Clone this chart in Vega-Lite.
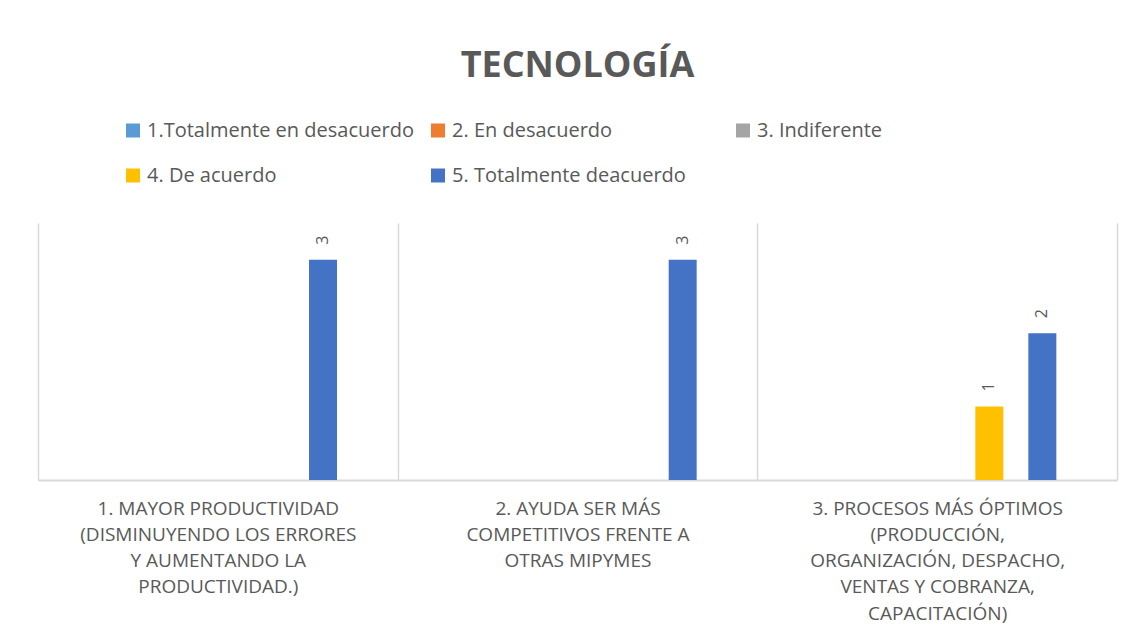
{
  "$schema": "https://vega.github.io/schema/vega-lite/v6.json",
  "width": 1079,
  "height": 257,
  "autosize": {"type": "none"},
  "padding": {"left": 38, "top": 223, "right": 17, "bottom": 153},
  "background": "white",
  "title": {"text": "TECNOLOGÍA", "font": "Open Sans", "fontSize": 36, "fontWeight": "bold", "color": "#595959", "anchor": "middle", "frame": "group", "offset": 36},
  "data": {"values": [
    {"categoria": "1. MAYOR PRODUCTIVIDAD (DISMINUYENDO LOS ERRORES Y AUMENTANDO LA PRODUCTIVIDAD.)", "respuesta": "5. Totalmente deacuerdo", "valor": 3},
    {"categoria": "2.  AYUDA SER MÁS COMPETITIVOS FRENTE A OTRAS MIPYMES", "respuesta": "5. Totalmente deacuerdo", "valor": 3},
    {"categoria": "3. PROCESOS MÁS ÓPTIMOS (PRODUCCIÓN, ORGANIZACIÓN, DESPACHO, VENTAS Y COBRANZA, CAPACITACIÓN)", "respuesta": "4. De acuerdo", "valor": 1},
    {"categoria": "3. PROCESOS MÁS ÓPTIMOS (PRODUCCIÓN, ORGANIZACIÓN, DESPACHO, VENTAS Y COBRANZA, CAPACITACIÓN)", "respuesta": "5. Totalmente deacuerdo", "valor": 2}
  ]},
  "encoding": {
    "x": {
      "field": "categoria", "type": "nominal", "sort": null,
      "scale": {
        "domain": [
          "1. MAYOR PRODUCTIVIDAD (DISMINUYENDO LOS ERRORES Y AUMENTANDO LA PRODUCTIVIDAD.)",
          "2.  AYUDA SER MÁS COMPETITIVOS FRENTE A OTRAS MIPYMES",
          "3. PROCESOS MÁS ÓPTIMOS (PRODUCCIÓN, ORGANIZACIÓN, DESPACHO, VENTAS Y COBRANZA, CAPACITACIÓN)"
        ],
        "paddingInner": 0, "paddingOuter": 0
      },
      "axis": {
        "title": null, "labelAngle": 0,
        "labelExpr": "!isString(datum.value) ? '' : indexof(datum.value, '1.') == 0 ? ['1. MAYOR PRODUCTIVIDAD', '(DISMINUYENDO LOS ERRORES', 'Y AUMENTANDO LA', 'PRODUCTIVIDAD.)'] : indexof(datum.value, '2.') == 0 ? ['2.  AYUDA SER MÁS', 'COMPETITIVOS FRENTE A', 'OTRAS MIPYMES'] : ['3. PROCESOS MÁS ÓPTIMOS', '(PRODUCCIÓN,', 'ORGANIZACIÓN, DESPACHO,', 'VENTAS Y COBRANZA,', 'CAPACITACIÓN)']",
        "labelFont": "Open Sans", "labelFontSize": 19, "labelColor": "#595959",
        "labelLineHeight": 26.3, "labelPadding": 19, "labelBaseline": "top",
        "labelLimit": 500, "labelOverlap": false, "labelFlush": false,
        "ticks": false, "grid": true, "gridColor": "#d9d9d9", "gridWidth": 1.5,
        "tickBand": "extent", "domainColor": "#d9d9d9", "domainWidth": 2
      }
    },
    "xOffset": {
      "field": "respuesta", "type": "nominal",
      "scale": {
        "domain": ["1.Totalmente en desacuerdo", "2. En desacuerdo", "3. Indiferente", "4. De acuerdo", "5. Totalmente deacuerdo"],
        "range": [59, 299],
        "paddingInner": 0.472, "paddingOuter": 0
      }
    },
    "y": {"field": "valor", "type": "quantitative", "scale": {"domain": [0, 3.5], "nice": false, "zero": true}, "axis": null}
  },
  "layer": [
    {
      "mark": {"type": "bar"},
      "encoding": {
        "color": {
          "field": "respuesta", "type": "nominal",
          "scale": {
            "domain": ["1.Totalmente en desacuerdo", "2. En desacuerdo", "3. Indiferente", "4. De acuerdo", "5. Totalmente deacuerdo"],
            "range": ["#5B9BD5", "#ED7D31", "#A5A5A5", "#FFC000", "#4472C4"]
          },
          "legend": {
            "orient": "none", "legendX": 85, "legendY": -102.5, "padding": 0,
            "direction": "horizontal", "columns": 3, "gridAlign": "all",
            "title": null, "symbolType": "square", "symbolSize": 196, "symbolStrokeWidth": 0,
            "symbolOpacity": 1,
            "labelFont": "Open Sans", "labelFontSize": 20, "labelColor": "#595959",
            "labelOffset": 4, "rowPadding": 25, "columnPadding": 14, "labelLimit": 400
          }
        }
      }
    },
    {
      "mark": {"type": "text", "angle": 270, "align": "left", "baseline": "middle", "dx": 15, "font": "Open Sans", "fontSize": 16, "color": "#595959"},
      "encoding": {"text": {"field": "valor", "type": "quantitative"}}
    }
  ],
  "config": {"view": {"stroke": null}}
}
